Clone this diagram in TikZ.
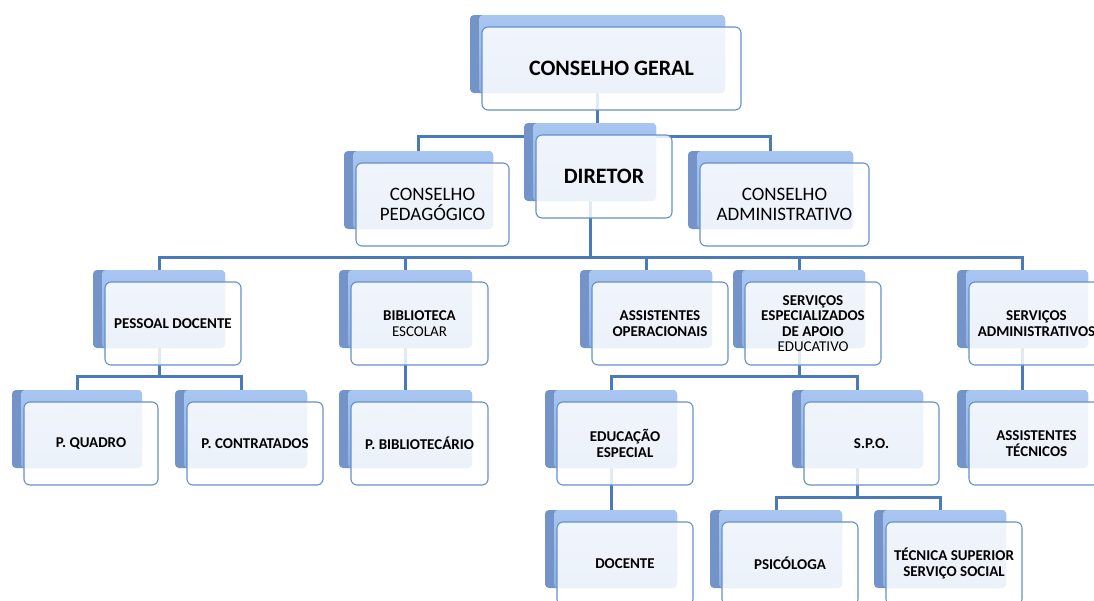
\documentclass[tikz,border=0pt]{standalone}
\usepackage{fontspec}
\setmainfont{Carlito}
\usetikzlibrary{calc}
\pgfdeclarelayer{background}
\pgfsetlayers{background,main}
\definecolor{conncol}{HTML}{4A7AB8}
\definecolor{frontdraw}{HTML}{6690CC}
\definecolor{backdark}{HTML}{7393C9}
\definecolor{backlight}{HTML}{A8C6F0}
\definecolor{backmid}{HTML}{8DB0E4}
\tikzset{
  backbox/.style={rectangle, rounded corners=4pt, inner sep=0pt, outer sep=0pt,
    minimum height=78pt, fill=backdark, anchor=north west,
    path picture={\shade[top color=backlight, bottom color=backmid]
      ([xshift=9pt]path picture bounding box.north west) rectangle
      (path picture bounding box.south east);}},
  frontbox/.style={rectangle, rounded corners=6pt, inner sep=0pt, outer sep=0pt,
    minimum height=83pt, fill=white, fill opacity=0.84, text opacity=1,
    draw=frontdraw, line width=1.1pt, anchor=north west, align=center, text=black},
  bigtxt/.style={font=\fontsize{22}{24}\selectfont\bfseries},
  midtxt/.style={font=\fontsize{19}{20}\selectfont},
  smalltxt/.style={font=\fontsize{15}{15.5}\selectfont\bfseries},
  conn/.style={draw=conncol, line width=3pt}
}
\newcommand\orgbox[6]{%
  \node[backbox, minimum width=#4pt] (#1b) at (#2,#3) {};
  \node[frontbox, minimum width=#4pt+4pt, #5] (#1) at (#2+12,#3+12) {#6};
}
\begin{document}
\begin{tikzpicture}[x=1pt,y=-1pt]
\useasboundingbox (0,0) rectangle (1094,600);
\clip (0,0) rectangle (1094,600);
% level 1-2
\orgbox{cg}{470}{15}{255}{bigtxt}{CONSELHO GERAL}
\orgbox{cp}{344}{151}{149}{midtxt}{CONSELHO\\PEDAGÓGICO}
\orgbox{ca}{688}{151}{165}{midtxt}{CONSELHO\\ADMINISTRATIVO}
\orgbox{dir}{524}{123}{132}{bigtxt}{DIRETOR}
% level 3
\orgbox{pd}{93}{270}{132}{smalltxt}{PESSOAL DOCENTE}
\orgbox{be}{339}{270}{133}{smalltxt}{BIBLIOTECA\\{\mdseries ESCOLAR}}
\orgbox{ao}{580}{270}{132}{smalltxt}{ASSISTENTES\\OPERACIONAIS}
\orgbox{se}{733}{270}{132}{smalltxt}{SERVIÇOS\\ESPECIALIZADOS\\DE APOIO\\{\mdseries EDUCATIVO}}
\orgbox{sa}{957}{270}{131}{smalltxt}{SERVIÇOS\\ADMINISTRATIVOS}
% level 4
\orgbox{pq}{12}{390}{130}{smalltxt}{P. QUADRO}
\orgbox{pc}{175}{390}{132}{smalltxt}{P. CONTRATADOS}
\orgbox{pb}{339}{390}{133}{smalltxt}{P. BIBLIOTECÁRIO}
\orgbox{ee}{545}{390}{132}{smalltxt}{EDUCAÇÃO\\ESPECIAL}
\orgbox{spo}{792}{390}{131}{smalltxt}{S.P.O.}
\orgbox{at}{957}{390}{131}{smalltxt}{ASSISTENTES\\TÉCNICOS}
% level 5
\orgbox{doc}{545}{510}{132}{smalltxt}{DOCENTE}
\orgbox{psi}{710}{510}{132}{smalltxt}{PSICÓLOGA}
\orgbox{ts}{874}{510}{132}{smalltxt}{TÉCNICA SUPERIOR\\SERVIÇO SOCIAL}
% buses
\coordinate (bus1) at (0,136);
\coordinate (bus2) at (0,257);
\coordinate (bus3) at (0,376);
\coordinate (bus4) at (0,497);
\begin{pgfonlayer}{background}
\fill[white] (0,0) rectangle (1094,600);
\draw[conn] (cgb.south) -- (cgb.south |- bus1);
\draw[conn] (cpb.north) -- (cpb.north |- bus1) -| (cab.north);
\draw[conn] (dirb.south) -- (dirb.south |- bus2);
\draw[conn] (pdb.north) -- (pdb.north |- bus2) -| (sab.north);
\draw[conn] (beb.north) -- (beb.north |- bus2);
\draw[conn] (aob.north) -- (aob.north |- bus2);
\draw[conn] (seb.north) -- (seb.north |- bus2);
\draw[conn] (pdb.south) -- (pdb.south |- bus3);
\draw[conn] (pqb.north) -- (pqb.north |- bus3) -| (pcb.north);
\draw[conn] (beb.south) -- (pbb.north);
\draw[conn] (seb.south) -- (seb.south |- bus3);
\draw[conn] (eeb.north) -- (eeb.north |- bus3) -| (spob.north);
\draw[conn] (sab.south) -- (atb.north);
\draw[conn] (eeb.south) -- (docb.north);
\draw[conn] (spob.south) -- (spob.south |- bus4);
\draw[conn] (psib.north) -- (psib.north |- bus4) -| (tsb.north);
\end{pgfonlayer}
\end{tikzpicture}
\end{document}
